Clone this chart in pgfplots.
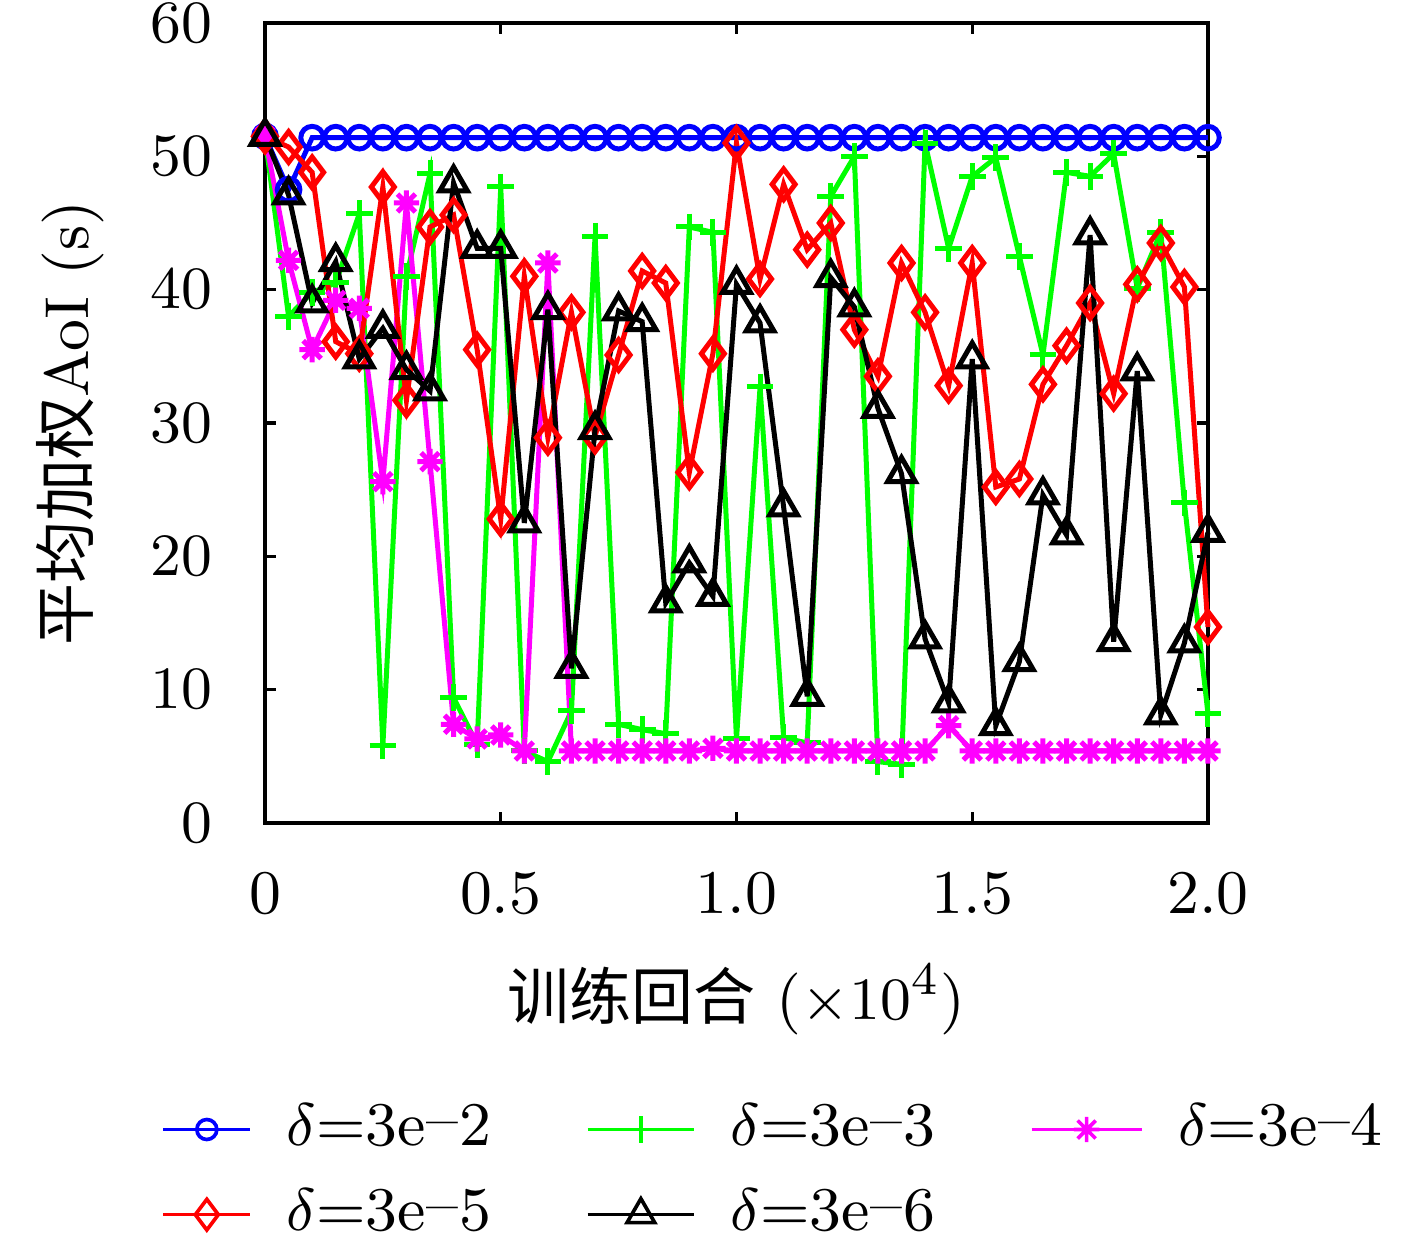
\documentclass[border=0pt]{standalone}
\usepackage{pgfplots}
\pgfplotsset{compat=1.18}
\usepackage{fontspec}
\newfontfamily\cjk{Noto Sans CJK SC}
\pgfdeclareplotmark{mstar}{%
 \pgfpathmoveto{\pgfqpoint{-\pgfplotmarksize}{0pt}}\pgfpathlineto{\pgfqpoint{\pgfplotmarksize}{0pt}}%
 \pgfpathmoveto{\pgfqpoint{0pt}{-\pgfplotmarksize}}\pgfpathlineto{\pgfqpoint{0pt}{\pgfplotmarksize}}%
 \pgfpathmoveto{\pgfqpoint{-0.707\pgfplotmarksize}{-0.707\pgfplotmarksize}}\pgfpathlineto{\pgfqpoint{0.707\pgfplotmarksize}{0.707\pgfplotmarksize}}%
 \pgfpathmoveto{\pgfqpoint{-0.707\pgfplotmarksize}{0.707\pgfplotmarksize}}\pgfpathlineto{\pgfqpoint{0.707\pgfplotmarksize}{-0.707\pgfplotmarksize}}%
 \pgfusepathqstroke}
\definecolor{mblue}{RGB}{0,0,255}
\definecolor{mgreen}{RGB}{0,255,0}
\definecolor{mmag}{RGB}{255,0,255}
\definecolor{mred}{RGB}{255,0,0}
\newcommand{\fs}{\fontsize{9.3pt}{11pt}\selectfont}
\newcommand{\dm}{\kern0.1pt\raisebox{0.22ex}{--}\kern0.1pt}
\begin{document}
\begin{tikzpicture}
\useasboundingbox (-39.75pt,-64.05pt) rectangle (172.8pt,123.45pt);
\begin{axis}[
  scale only axis,
  width=141.45pt, height=120pt,
  xmin=0, xmax=2, ymin=0, ymax=60,
  xtick={0,0.5,1,1.5,2},
  xticklabels={0,0.5,1.0,1.5,2.0},
  ytick={0,10,20,30,40,50,60},
  tick label style={font=\fs},
  xticklabel style={yshift=-3.8pt},
  yticklabel style={xshift=-4.4pt},
  major tick length=1.7pt,
  tick style={black, line width=0.5pt},
  axis line style={line width=0.6pt},
  clip=false,
  every axis x label/.style={at={(axis description cs:0.5,-0.221)},anchor=center},
  every axis y label/.style={at={(axis description cs:-0.207,0.5)},rotate=90,anchor=center},
  xlabel={\fs{\cjk 训练回合} ($\times 10^4$)},
  ylabel={\fs{\cjk 平均加权}AoI (s)},
  every axis plot/.append style={line width=0.75pt},
  every mark/.append style={line width=0.7pt, solid},
  legend columns=3,
  legend style={at={(rel axis cs:-0.111,-0.339)}, anchor=north west, draw=none, fill=none,
    font=\fs, inner sep=0pt, row sep=2.6pt,
    nodes={inner sep=1.2pt},
    /tikz/every even column/.append style={column sep=13pt},
    /tikz/every odd column/.append style={column sep=4pt}},
]
\addplot[mblue, mark=o, mark size=1.7pt, legend image code/.code={\draw[mark repeat=2,mark phase=2,line width=0.55pt,mark size=1.5pt] plot coordinates {(0pt,0pt) (6.5pt,0pt) (13pt,0pt)};}] coordinates {
(0,51.5)(0.05,47.5)(0.1,51.4)(0.15,51.4)(0.2,51.4)(0.25,51.4)(0.3,51.4)(0.35,51.4)(0.4,51.4)(0.45,51.4)
(0.5,51.4)(0.55,51.4)(0.6,51.4)(0.65,51.4)(0.7,51.4)(0.75,51.4)(0.8,51.4)(0.85,51.4)(0.9,51.4)(0.95,51.4)
(1.0,51.4)(1.05,51.4)(1.1,51.4)(1.15,51.4)(1.2,51.4)(1.25,51.4)(1.3,51.4)(1.35,51.4)(1.4,51.4)(1.45,51.4)
(1.5,51.4)(1.55,51.4)(1.6,51.4)(1.65,51.4)(1.7,51.4)(1.75,51.4)(1.8,51.4)(1.85,51.4)(1.9,51.4)(1.95,51.4)(2.0,51.4)};
\addlegendentry{$\delta$=3e\dm2}
\addplot[mgreen, mark=+, mark size=2pt, legend image code/.code={\draw[mark repeat=2,mark phase=2,line width=0.55pt] plot coordinates {(0pt,0pt) (8pt,0pt) (16pt,0pt)};}] coordinates {
(0,51.5)(0.05,38.0)(0.1,39.8)(0.15,40.5)(0.2,45.7)(0.25,5.8)(0.3,41.0)(0.35,48.7)(0.4,9.4)(0.45,5.9)
(0.5,47.7)(0.55,5.4)(0.6,4.6)(0.65,8.4)(0.7,44.0)(0.75,7.4)(0.8,7.0)(0.85,6.7)(0.9,44.7)(0.95,44.3)
(1.0,6.3)(1.05,32.7)(1.1,6.4)(1.15,6.0)(1.2,47.0)(1.25,50.0)(1.3,4.6)(1.35,4.4)(1.4,51.0)(1.45,43.1)
(1.5,48.5)(1.55,49.9)(1.6,42.5)(1.65,35.1)(1.7,48.8)(1.75,48.5)(1.8,50.2)(1.85,40.1)(1.9,44.3)(1.95,24.0)(2.0,8.2)};
\addlegendentry{$\delta$=3e\dm3}
\addplot[mmag, mark=mstar, mark size=1.9pt, legend image code/.code={\draw[mark repeat=2,mark phase=2,line width=0.55pt] plot coordinates {(0pt,0pt) (8.25pt,0pt) (16.5pt,0pt)};}] coordinates {
(0,51.5)(0.05,42.2)(0.1,35.5)(0.15,39.2)(0.2,38.6)(0.25,25.6)(0.3,46.5)(0.35,27.1)(0.4,7.4)(0.45,6.3)
(0.5,6.6)(0.55,5.4)(0.6,42.0)(0.65,5.4)(0.7,5.4)(0.75,5.4)(0.8,5.4)(0.85,5.4)(0.9,5.4)(0.95,5.6)
(1.0,5.4)(1.05,5.4)(1.1,5.4)(1.15,5.4)(1.2,5.4)(1.25,5.4)(1.3,5.4)(1.35,5.4)(1.4,5.4)(1.45,7.3)
(1.5,5.4)(1.55,5.4)(1.6,5.4)(1.65,5.4)(1.7,5.4)(1.75,5.4)(1.8,5.4)(1.85,5.4)(1.9,5.4)(1.95,5.4)(2.0,5.4)};
\addlegendentry{$\delta$=3e\dm4}
\addplot[mred, mark=diamond, mark size=2.3pt, legend image code/.code={\draw[mark repeat=2,mark phase=2,line width=0.55pt] plot coordinates {(0pt,0pt) (6.5pt,0pt) (13pt,0pt)};}] coordinates {
(0,51.5)(0.05,50.7)(0.1,48.8)(0.15,36.1)(0.2,35.2)(0.25,47.7)(0.3,31.7)(0.35,44.7)(0.4,45.6)(0.45,35.5)
(0.5,22.8)(0.55,41.0)(0.6,28.9)(0.65,38.3)(0.7,29.0)(0.75,35.1)(0.8,41.4)(0.85,40.5)(0.9,26.3)(0.95,35.2)
(1.0,51.0)(1.05,40.8)(1.1,47.9)(1.15,43.0)(1.2,45.0)(1.25,37.0)(1.3,33.5)(1.35,42.0)(1.4,38.3)(1.45,32.8)
(1.5,42.0)(1.55,25.2)(1.6,25.8)(1.65,32.9)(1.7,35.8)(1.75,39.0)(1.8,32.2)(1.85,40.4)(1.9,43.5)(1.95,40.2)(2.0,14.7)};
\addlegendentry{$\delta$=3e\dm5}
\addplot[black, mark=triangle, mark size=2.4pt, legend image code/.code={\draw[mark repeat=2,mark phase=2,line width=0.55pt] plot coordinates {(0pt,0pt) (8pt,0pt) (16pt,0pt)};}] coordinates {
(0,51.5)(0.05,47.1)(0.1,39.0)(0.15,42.1)(0.2,34.8)(0.25,37.1)(0.3,34.0)(0.35,32.4)(0.4,48.0)(0.45,43.1)
(0.5,43.1)(0.55,22.5)(0.6,38.5)(0.65,11.6)(0.7,29.5)(0.75,38.4)(0.8,37.6)(0.85,16.5)(0.9,19.5)(0.95,17.0)
(1.0,40.4)(1.05,37.5)(1.1,23.7)(1.15,9.5)(1.2,40.9)(1.25,38.7)(1.3,31.1)(1.35,26.2)(1.4,13.8)(1.45,9.0)
(1.5,34.8)(1.55,7.3)(1.6,12.1)(1.65,24.6)(1.7,21.6)(1.75,44.1)(1.8,13.6)(1.85,33.9)(1.9,8.1)(1.95,13.5)(2.0,21.8)};
\addlegendentry{$\delta$=3e\dm6}
\end{axis}
\end{tikzpicture}
\end{document}
